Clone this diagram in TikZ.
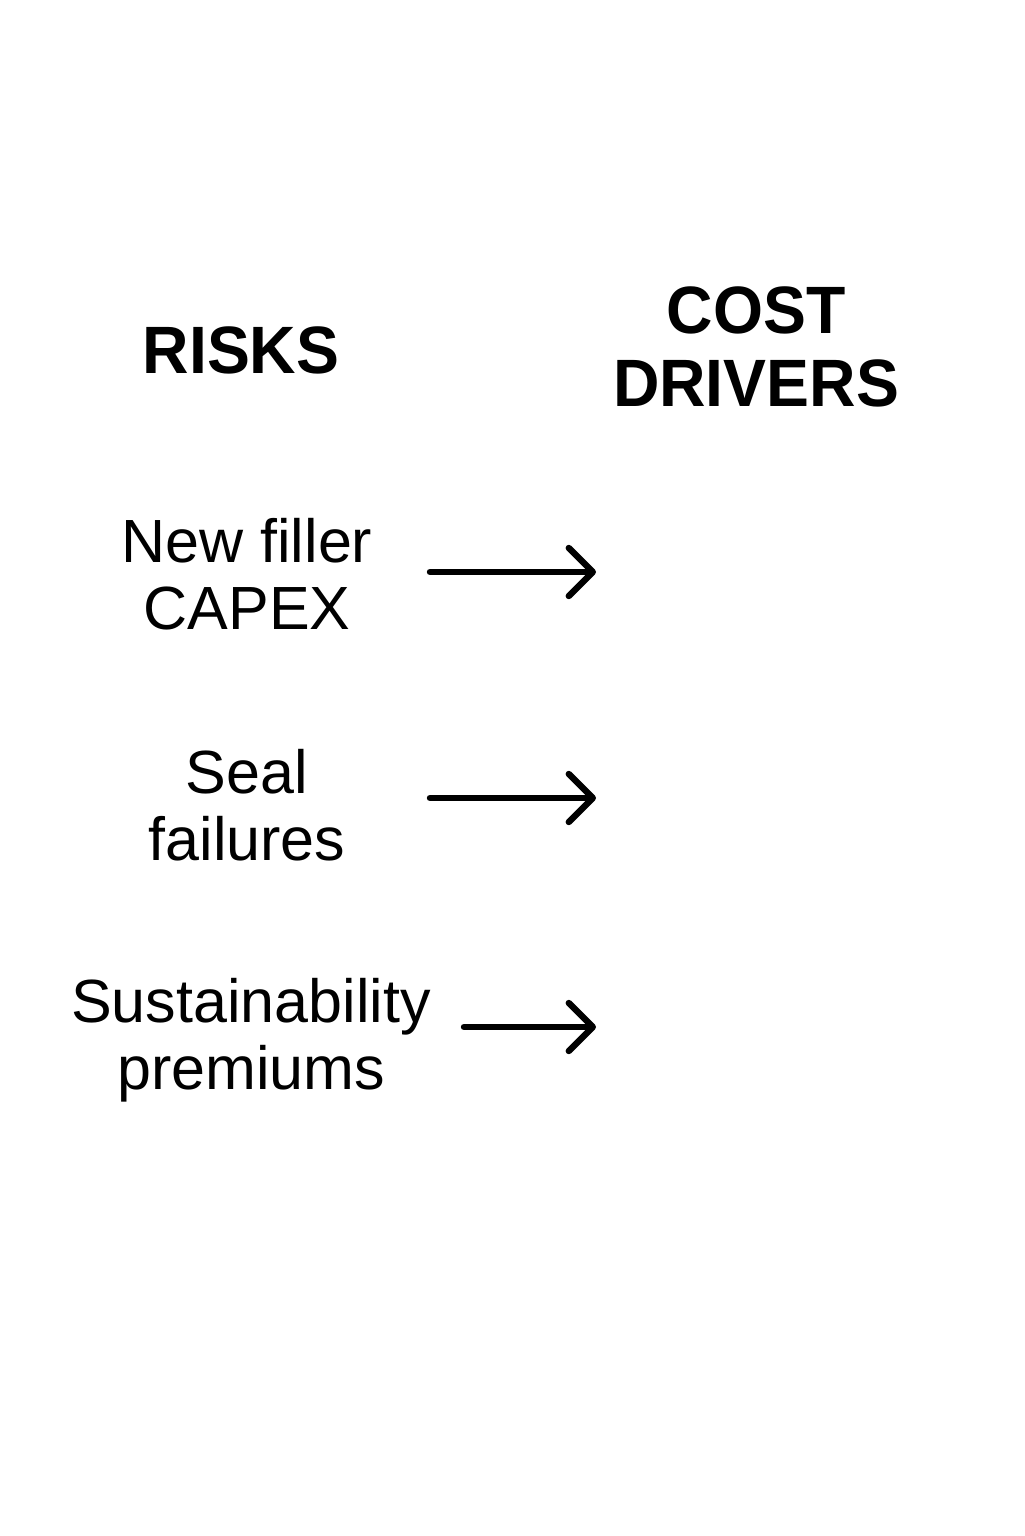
\documentclass[tikz,border=0pt]{standalone}
\usepackage{fontspec}
\setmainfont{Liberation Sans}
\newfontfamily\headfont{Liberation Sans}[FakeStretch=0.96]
\usetikzlibrary{arrows.meta}
\begin{document}
\begin{tikzpicture}[x=0.5pt,y=-0.5pt,
  heading/.style={inner sep=0pt, align=center, font=\headfont\bfseries\fontsize{33.5pt}{36.5pt}\selectfont},
  risk/.style={inner sep=0pt, align=center, font=\fontsize{30.5pt}{33.5pt}\selectfont},
  arrowline/.style={line width=3.2pt, line cap=round, -{Straight Barb[length=12pt,width=24pt,line cap=round,round]}}]
\useasboundingbox[fill=white] (0,0) rectangle (1024,1536);
\node[heading, anchor=base] (risks) at (241,373) {RISKS};
\node[heading, anchor=base] (costdrivers) at (756,406) {COST\\DRIVERS};
\node[risk, anchor=base] (capex) at (247,629) {New filler\\CAPEX};
\node[risk, anchor=base] (seal) at (247,860) {Seal\\failures};
\node[risk, anchor=base] (sust) at (251,1089) {Sustainability\\premiums};
\coordinate (s1) at (430,572);
\coordinate (e1) at (596,572);
\coordinate (s2) at (430,798);
\coordinate (e2) at (596,798);
\coordinate (s3) at (464,1027);
\coordinate (e3) at (596,1027);
\draw[arrowline] (s1) -- (e1);
\draw[arrowline] (s2) -- (e2);
\draw[arrowline] (s3) -- (e3);
\end{tikzpicture}
\end{document}
